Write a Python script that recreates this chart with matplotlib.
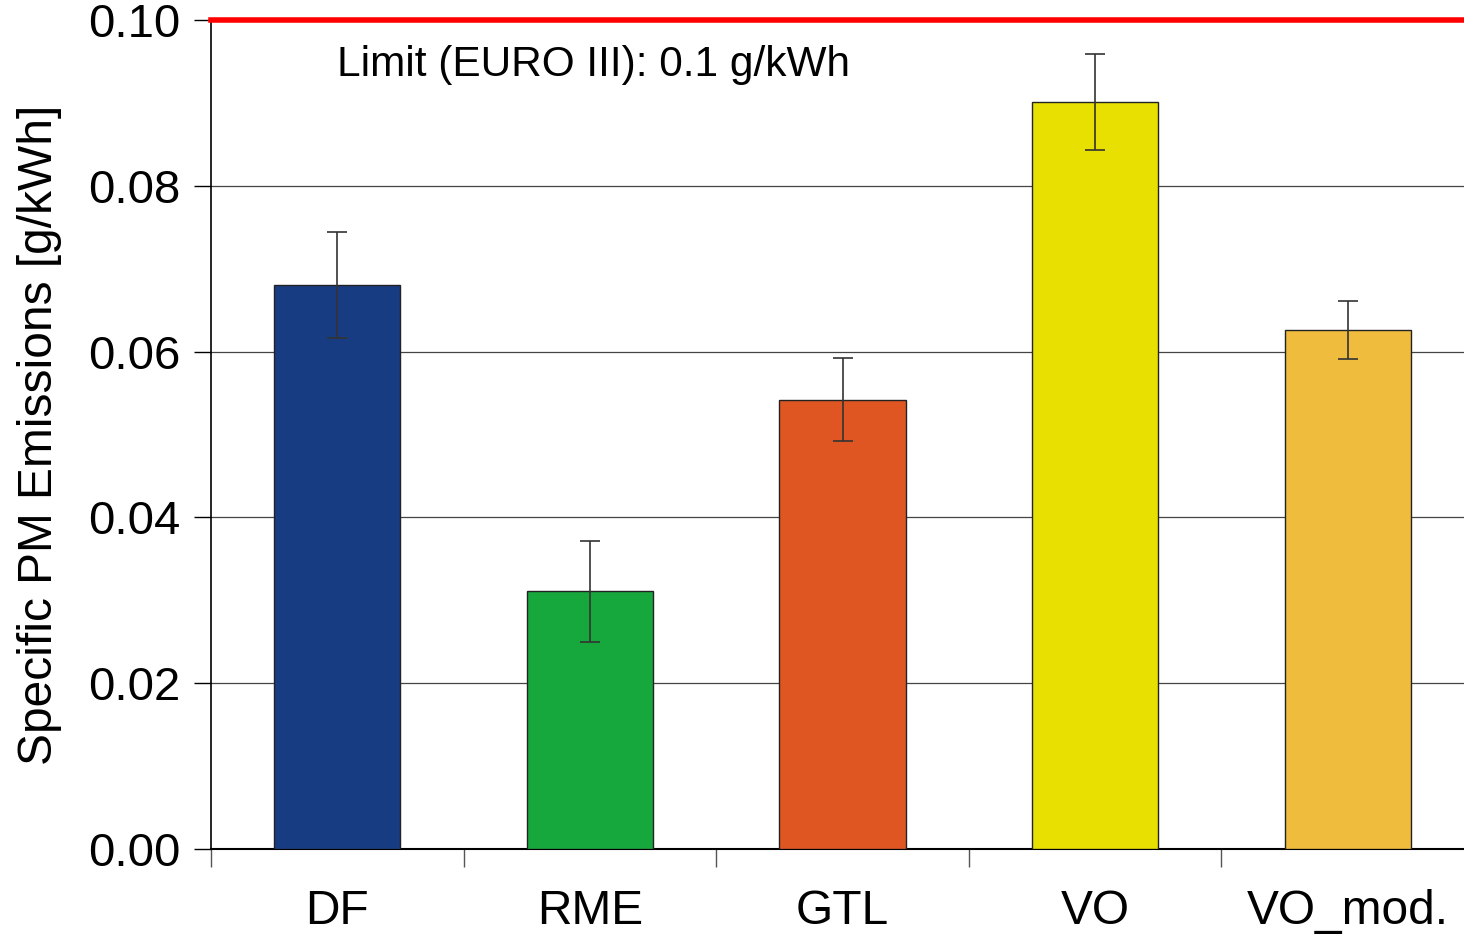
import matplotlib
matplotlib.use('Agg')
import matplotlib.pyplot as plt
import numpy as np

plt.rcParams['font.family'] = ['Liberation Sans', 'DejaVu Sans']

# PM emissions per fuel, with error bars
fuels = ['DF', 'RME', 'GTL', 'VO', 'VO_mod.']
pm = [0.0680, 0.0311, 0.0542, 0.0901, 0.0626]
pm_err = [0.0064, 0.0061, 0.0050, 0.0058, 0.0035]
colors = ['#173C82', '#17A83D', '#E05622', '#E8E000', '#F0BC3E']
limit = 0.1
yticks = [0.00, 0.02, 0.04, 0.06, 0.08, 0.10]

fig = plt.figure(figsize=(14.64, 9.34), dpi=100)
ax = fig.add_axes([211 / 1464, 85 / 934, 1253 / 1464, 829 / 934])

x = np.arange(len(fuels))
ax.bar(x, pm, width=0.5, color=colors, edgecolor='#222222', linewidth=1.0, zorder=3)
ax.errorbar(x, pm, yerr=pm_err, fmt='none', ecolor='#333333', elinewidth=1.2,
            capsize=7, capthick=1.2, zorder=4)

ax.axhline(limit, color='#FF0000', linewidth=4, zorder=5, clip_on=False)
ax.text(0.0, 0.0946, 'Limit (EURO III): 0.1 g/kWh', fontsize=30.5, ha='left', va='center')

ax.set_ylim(0, 0.1)
ax.set_xlim(-0.5, 4.46)
ax.set_yticks(yticks)
ax.set_yticklabels([f'{v:.2f}' for v in yticks], fontsize=34)
ax.yaxis.grid(True, color='#444444', linewidth=0.9, zorder=0)

# category ticks at the group boundaries, labels in the middle
ax.set_xticks(np.arange(-0.5, 4.5, 1.0))
ax.set_xticklabels([])
ax.set_xticks(x, minor=True)
ax.set_xticklabels(fuels, minor=True, fontsize=34.5)
ax.tick_params(axis='x', which='minor', length=0, pad=29)
ax.tick_params(axis='x', which='major', length=13, width=1.0, color='#555555')
ax.tick_params(axis='y', length=12, width=1.0, pad=10)

ax.set_ylabel('Specific PM Emissions [g/kWh]', fontsize=34.5, labelpad=19)

for side in ['top', 'right']:
    ax.spines[side].set_visible(False)
ax.spines['left'].set_linewidth(1.2)
ax.spines['bottom'].set_linewidth(1.5)

fig.savefig('out.png', dpi=100)
